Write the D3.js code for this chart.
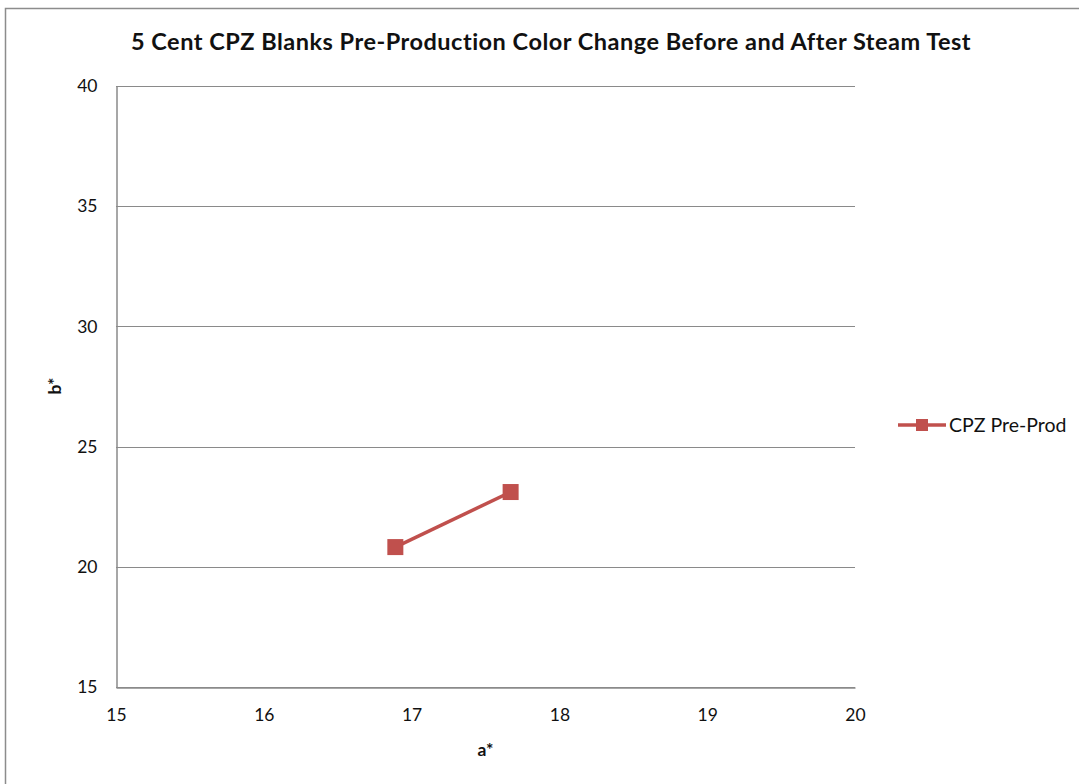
<!DOCTYPE html>
<html><head><meta charset="utf-8">
<script src="https://cdn.jsdelivr.net/npm/d3@7"></script>
<style>body{margin:0;background:#fff;} svg{display:block;} text{font-family:Lato,sans-serif;}</style>
</head><body>
<svg id="c" width="1079" height="784"></svg>
<script>
const title = "5 Cent CPZ Blanks Pre-Production Color Change Before and After Steam Test";
const seriesName = "CPZ Pre-Prod";
const aValues = [16.89, 17.67];
const bValues = [20.82, 23.11];
const xTicks = [15, 16, 17, 18, 19, 20];
const yTicks = [15, 20, 25, 30, 35, 40];
const xLabel = "a*";
const yLabel = "b*";

const svg = d3.select("#c");
const color = "#C0504D";
const FONT = "Lato, sans-serif";
svg.append("rect").attr("x",5.5).attr("y",8.5).attr("width",1100).attr("height",800)
  .attr("fill","none").attr("stroke","#8c8c8c").attr("stroke-width",1.5);

const x = d3.scaleLinear().domain([15,20]).range([116,855]);
const y = d3.scaleLinear().domain([15,40]).range([687,86]);

svg.append("g").selectAll("line").data(yTicks).join("line")
  .attr("x1",x(15)).attr("x2",x(20)).attr("y1",d=>Math.round(y(d))+0.5).attr("y2",d=>Math.round(y(d))+0.5)
  .attr("stroke","#8a8a8a").attr("stroke-width",1);
const xAxis = svg.append("g").attr("transform",`translate(0,${Math.round(y(15))+0.5})`)
  .call(d3.axisBottom(x).tickValues(xTicks).tickSize(0).tickPadding(21).tickFormat(d3.format("d")));
xAxis.select(".domain").attr("stroke","#8a8a8a").attr("stroke-width",1.5);
xAxis.selectAll("text").attr("font-size",17.5).attr("fill","#111").attr("font-family",FONT);
const yAxis = svg.append("g").attr("transform",`translate(${Math.round(x(15))+0.5},0)`)
  .call(d3.axisLeft(y).tickValues(yTicks).tickSize(0).tickPadding(19).tickFormat(d3.format("d")));
yAxis.select(".domain").attr("stroke","#8a8a8a").attr("stroke-width",1.5);
yAxis.selectAll("text").attr("font-size",17.5).attr("fill","#111").attr("font-family",FONT);

svg.append("text").attr("x",551).attr("y",50).attr("text-anchor","middle")
  .attr("font-size",23.5).attr("letter-spacing",0.5).attr("font-weight","bold").attr("fill","#111").text(title);
svg.append("text").attr("x",x(17.5)).attr("y",756).attr("text-anchor","middle")
  .attr("font-size",17.5).attr("font-weight","bold").attr("fill","#111").text(xLabel);
svg.append("text").attr("transform","translate(61,386) rotate(-90)").attr("text-anchor","middle")
  .attr("font-size",17.5).attr("font-weight","bold").attr("fill","#111").text(yLabel);

const pts = aValues.map((a,i)=>[a,bValues[i]]);
svg.append("path").datum(pts).attr("fill","none").attr("stroke",color).attr("stroke-width",3.5)
  .attr("d",d3.line().x(d=>x(d[0])).y(d=>y(d[1])));
svg.append("g").selectAll("rect").data(pts).join("rect")
  .attr("x",d=>x(d[0])-8).attr("y",d=>y(d[1])-8).attr("width",16).attr("height",16).attr("fill",color);

const lg = svg.append("g").attr("transform","translate(898,425)");
lg.append("line").attr("x1",0).attr("x2",48).attr("y1",0).attr("y2",0).attr("stroke",color).attr("stroke-width",3.5);
lg.append("rect").attr("x",18).attr("y",-6).attr("width",12).attr("height",12).attr("fill",color);
lg.append("text").attr("x",51).attr("y",6.5).attr("font-size",19.5).attr("fill","#111").text(seriesName);
</script>
</body></html>
